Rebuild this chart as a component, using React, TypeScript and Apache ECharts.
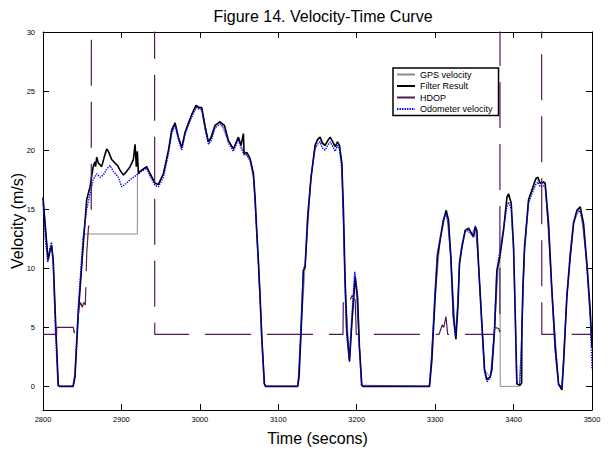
import React, { useEffect, useRef } from "react";
import * as echarts from "echarts";

const TITLE = "Figure 14. Velocity-Time Curve";
const X_NAME = "Time (secons)";
const Y_NAME = "Velocity (m/s)";
const SERIES_NAMES = ["GPS velocity", "Filter Result", "HDOP", "Odometer velocity"];
const Y_TICKS = [0, 5, 10, 15, 20, 25, 30];

// Filter Result (black)
const filterT = [2800, 2803, 2806.5, 2809, 2811, 2813, 2816.5, 2819.5, 2821, 2838.5, 2840.8, 2845, 2851.4, 2855.7, 2860, 2864, 2866, 2867, 2868.5, 2870.6, 2874.8, 2878, 2881.2, 2883.3, 2887.6, 2891.8, 2895, 2898.2, 2902.5, 2906.7, 2911, 2915.2, 2917.4, 2919, 2920.3, 2921.6, 2923.7, 2928, 2932.2, 2936.5, 2942.9, 2947.1, 2953.5, 2960, 2964.1, 2968.4, 2972.6, 2976.9, 2981.1, 2985.4, 2989.6, 2995.1, 2998.1, 3002.4, 3006.6, 3010.9, 3014.3, 3019.4, 3025.7, 3031.3, 3036.4, 3042.8, 3049.1, 3052.5, 3055.5, 3056.4, 3059.8, 3064, 3068.3, 3070.4, 3072.5, 3074.6, 3076.8, 3078.9, 3082.3, 3084, 3124.8, 3126.5, 3129.1, 3132, 3134.2, 3137.6, 3141.8, 3146.9, 3150, 3153.3, 3156, 3159.7, 3163, 3166.1, 3169.5, 3172.5, 3175.5, 3178, 3181, 3183.1, 3185.2, 3187.4, 3190.8, 3193.7, 3198, 3201, 3203.5, 3206.5, 3208, 3292.8, 3295.8, 3300, 3303, 3306.4, 3310.7, 3314.1, 3317, 3320, 3323.4, 3326.4, 3329, 3331.1, 3334.1, 3338.3, 3342.6, 3346.8, 3349, 3351.1, 3353.2, 3355.3, 3359.6, 3363, 3366, 3370.2, 3372.3, 3375.7, 3378.7, 3380.8, 3383, 3387.2, 3391.5, 3393.6, 3397, 3400, 3402.1, 3404.2, 3408.5, 3410.3, 3410.6, 3411.9, 3414, 3419.1, 3423.3, 3428.4, 3431, 3434, 3438.2, 3440.3, 3444.6, 3448.9, 3453.1, 3457.4, 3461.6, 3463.7, 3468, 3472.2, 3476.5, 3480.7, 3485, 3489.2, 3493.5, 3497.8, 3500];
const filterV = [16.0, 13.5, 10.7, 11.5, 11.9, 10.7, 4.7, 0.1, 0, 0, 0.8, 6.2, 12.1, 15.8, 16.9, 18.6, 19.0, 18.6, 19.4, 18.9, 18.6, 19.4, 20.1, 19.9, 19.2, 18.9, 18.7, 18.3, 17.9, 18.2, 18.6, 19.2, 20.5, 18.6, 19.9, 18.0, 18.2, 18.4, 18.6, 18.0, 17.2, 17.1, 18.0, 20.0, 21.7, 22.3, 21.1, 20.2, 21.5, 22.3, 23.0, 23.8, 23.6, 23.6, 22.0, 20.7, 21.0, 22.1, 22.4, 22.1, 20.8, 20.1, 21.1, 20.4, 21.4, 19.7, 19.8, 19.3, 18.0, 16.0, 13.2, 10.7, 7.6, 4.2, 0.2, 0, 0, 0.8, 4.7, 9.8, 10.1, 14.4, 17.7, 20.4, 20.9, 21.1, 20.6, 20.4, 20.8, 21.1, 20.7, 20.3, 20.7, 20.4, 18.9, 14.9, 9.0, 4.7, 2.1, 5.3, 9.3, 7.6, 3.3, 0.1, 0, 0, 2.2, 7.6, 11.0, 12.4, 14.1, 14.9, 14.1, 11.0, 5.9, 4.0, 6.7, 10.4, 11.8, 13.2, 13.4, 12.9, 12.7, 13.5, 13.2, 10.4, 5.3, 1.4, 0.6, 0.8, 1.4, 4.7, 9.8, 10.4, 11.2, 13.2, 16.0, 16.3, 15.5, 11.8, 6.2, 0.2, 0.1, 0.3, 4.7, 8.4, 11.8, 15.8, 16.6, 17.6, 17.7, 17.2, 17.3, 17.2, 13.8, 8.1, 3.3, 0.2, -0.3, 1.9, 7.6, 11.0, 13.8, 14.9, 15.2, 13.8, 10.4, 6.4, 3.3];

// Odometer velocity (blue dotted)
const odoT = [2800, 2803, 2806, 2809, 2811, 2813, 2816, 2819, 2820.5, 2838, 2840.5, 2845, 2851, 2855.7, 2860, 2864, 2868.5, 2872.7, 2877, 2881.2, 2885.5, 2889.7, 2896.1, 2900.3, 2904.6, 2911, 2919.5, 2923.7, 2928, 2932.2, 2936.5, 2942.9, 2947.1, 2953.5, 2960, 2964.1, 2968.4, 2972.6, 2976.9, 2981.1, 2985.4, 2989.6, 2995.1, 2998.1, 3002.4, 3006.6, 3010.9, 3014.3, 3019.4, 3025.7, 3031.3, 3036.4, 3042.8, 3049.1, 3052.5, 3056.4, 3059.8, 3064, 3068.3, 3070.4, 3072.5, 3074.6, 3076.8, 3078.9, 3082, 3083.5, 3124.5, 3126, 3128.8, 3132, 3134.2, 3137.6, 3141.8, 3146.9, 3150, 3153.3, 3156, 3159.7, 3163, 3166.1, 3169.5, 3172.5, 3175.5, 3178, 3181, 3183, 3185, 3187.2, 3190.5, 3193.5, 3197.5, 3200.8, 3203.2, 3206, 3207.5, 3292.5, 3295.5, 3299.7, 3302.8, 3306.4, 3310.7, 3314, 3317, 3320, 3323.2, 3326.2, 3328.8, 3331, 3334, 3338.3, 3342.6, 3346.8, 3349, 3351.1, 3353.2, 3355.3, 3359.6, 3363, 3366, 3370.2, 3372.3, 3375.7, 3378.7, 3380.8, 3383, 3387.2, 3391.5, 3393.6, 3397, 3400, 3402.1, 3404, 3408, 3410.6, 3411.9, 3414, 3419.1, 3423.3, 3428.4, 3431, 3434, 3438.2, 3440.3, 3444.6, 3448.9, 3453.1, 3457.4, 3461.6, 3463.7, 3468, 3472.2, 3476.5, 3480.7, 3485, 3489.2, 3493.5, 3497.8, 3500];
const odoV = [15.5, 12.5, 10.5, 11.8, 12.2, 10.3, 4.5, 0.1, 0, 0, 1.0, 6.8, 12.5, 15.0, 16.3, 17.5, 18.0, 17.7, 17.9, 18.4, 18.7, 18.2, 17.7, 16.9, 17.1, 17.5, 17.9, 18.1, 18.3, 18.5, 17.8, 17.0, 16.9, 17.7, 19.7, 21.4, 22.1, 20.9, 20.0, 21.3, 22.1, 22.8, 23.6, 23.5, 23.4, 21.8, 20.5, 20.8, 21.9, 22.2, 21.9, 20.6, 19.9, 20.9, 20.2, 19.6, 19.6, 19.1, 17.7, 15.7, 12.9, 10.4, 7.3, 3.9, 0.2, 0, 0, 0.9, 5.0, 9.9, 10.3, 14.6, 17.8, 20.1, 20.5, 20.7, 20.2, 20.0, 20.4, 20.7, 20.3, 19.9, 20.4, 20.1, 18.4, 14.0, 8.5, 4.3, 2.3, 5.7, 9.7, 7.9, 3.5, 0.1, 0, 0, 2.5, 8.0, 11.3, 12.6, 14.2, 14.6, 13.8, 10.7, 5.7, 4.2, 7.0, 10.6, 11.9, 13.1, 13.3, 12.8, 12.6, 13.6, 13.0, 10.1, 5.0, 1.2, 0.4, 0.7, 1.6, 5.0, 9.9, 10.8, 11.6, 13.4, 15.2, 15.6, 15.0, 11.5, 6.0, 0.4, 0.3, 4.5, 8.1, 11.5, 15.5, 16.3, 17.1, 17.3, 16.9, 17.0, 16.9, 13.5, 7.8, 3.0, 0.1, 0.0, 2.2, 7.9, 11.3, 14.0, 14.8, 14.8, 13.5, 10.0, 5.8, 1.4];

// GPS velocity (grey, mostly hidden below the filter result)
const gpsT = [2800, 2803, 2806.5, 2809, 2811, 2813, 2816.5, 2819.5, 2821, 2838.5, 2840.8, 2845, 2851.4, 2852.5, 2920.3, 2920.4, 2921.6, 2923.7, 2932.2, 2936.5, 2942.9, 2947.1, 2953.5, 2960, 2964.1, 2968.4, 2972.6, 2976.9, 2981.1, 2989.6, 2995.1, 3002.4, 3010.9, 3019.4, 3025.7, 3036.4, 3042.8, 3049.1, 3056.4, 3064, 3068.3, 3072.5, 3076.8, 3082.3, 3084, 3124.8, 3129.1, 3134.2, 3141.8, 3146.9, 3153.3, 3159.7, 3166.1, 3172.5, 3178, 3181, 3185.2, 3190.8, 3198, 3203.5, 3206.5, 3292.8, 3300, 3306.4, 3314.1, 3320, 3326.4, 3331.1, 3338.3, 3346.8, 3351.1, 3355.3, 3363, 3370.2, 3375.7, 3380.8, 3382.7, 3383, 3407.5, 3410.6, 3414, 3419.1, 3428.4, 3434, 3440.3, 3448.9, 3457.4, 3461.6, 3468, 3476.5, 3485, 3493.5, 3500];
const gpsV = [16.0, 13.5, 10.7, 11.5, 11.9, 10.7, 4.7, 0.1, 0, 0, 0.8, 6.2, 12.1, 12.9, 12.9, 18.0, 18.0, 18.2, 18.6, 18.0, 17.2, 17.1, 18.0, 20.0, 21.7, 22.3, 21.1, 20.2, 21.5, 23.0, 23.8, 23.6, 20.7, 22.1, 22.4, 20.8, 20.1, 21.1, 19.7, 19.3, 18.0, 13.2, 7.6, 0.2, 0, 0, 4.7, 10.1, 17.7, 20.4, 21.1, 20.4, 21.1, 20.3, 20.4, 18.9, 9.0, 2.1, 9.3, 3.3, 0.1, 0, 7.6, 12.4, 14.9, 11.0, 4.0, 10.4, 13.2, 12.9, 13.5, 10.4, 1.4, 0.8, 4.7, 10.4, 11.0, 0, 0, 4.7, 11.8, 15.8, 17.6, 17.2, 17.2, 8.1, 0.2, -0.3, 7.6, 13.8, 15.2, 10.4, 3.3];

// HDOP (purple dashed, values above 30 leave the plot)
const hdopT = [2800, 2817.4, 2817.5, 2838.7, 2839.8, 2841, 2845, 2846, 2848, 2850, 2852, 2854, 2855.7, 2858, 2861.5, 2862, 2942, 2942.5, 3182.5, 3183, 3188, 3191, 3194, 3198, 3199.5, 3305, 3309, 3311, 3313.8, 3316, 3375, 3376, 3381, 3382.5, 3383, 3435.5, 3436, 3500];
const hdopV = [4.4, 4.4, 5.0, 5.0, 4.5, 5.9, 5.9, 6.7, 7.1, 6.7, 7.1, 6.9, 11.2, 13.5, 14, 60, 60, 4.4, 4.4, 7.6, 7.5, 7.2, 7.7, 7.3, 4.4, 4.4, 5.2, 5.0, 5.9, 4.4, 4.4, 5.0, 4.9, 4.6, 60, 60, 4.4, 4.4];

const pairs = (t: number[], v: number[]) => t.map((x, i) => [x, v[i]]);

const FONT = "Liberation Sans, Arial, sans-serif";

export default function App() {
  const ref = useRef<HTMLDivElement>(null);
  useEffect(() => {
    if (!ref.current) return;
    const chart = echarts.init(ref.current, undefined, { renderer: "svg" });
    const axisLine = { show: true, onZero: false, lineStyle: { color: "#000", width: 1 } };
    const tick = { show: true, inside: true, length: 6, lineStyle: { color: "#000", width: 1 } };
    const plain = (v: number) => String(v);
    chart.setOption({
      animation: false,
      backgroundColor: "#fff",
      textStyle: { fontFamily: FONT },
      title: {
        text: TITLE,
        left: 318,
        top: 3,
        textAlign: "center",
        textStyle: { fontFamily: FONT, fontSize: 16, fontWeight: "normal", color: "#000" },
      },
      grid: { left: 43, right: 16, top: 32, bottom: 41, containLabel: false, outerBoundsMode: "none" },
      legend: {
        data: SERIES_NAMES,
        orient: "vertical",
        left: 393,
        top: 68,
        itemWidth: 18,
        itemHeight: 9,
        itemGap: 2.5,
        padding: [2, 6, 2, 3],
        borderColor: "#000",
        borderWidth: 1.5,
        backgroundColor: "#fff",
        itemStyle: { opacity: 0 },
        textStyle: { fontFamily: FONT, fontSize: 9, color: "#000" },
      },
      xAxis: [
        {
          type: "value",
          min: 2800,
          max: 3500,
          interval: 100,
          position: "bottom",
          name: X_NAME,
          nameLocation: "middle",
          nameGap: 20,
          nameMoveOverlap: false,
          nameTextStyle: { fontFamily: FONT, fontSize: 16, color: "#000" },
          axisLine,
          splitLine: { show: false },
          axisTick: tick,
          axisLabel: { fontFamily: FONT, fontSize: 7.5, color: "#000", margin: 5, formatter: plain },
        },
        {
          type: "value",
          min: 2800,
          max: 3500,
          interval: 100,
          position: "top",
          axisLine,
          splitLine: { show: false },
          axisTick: tick,
          axisLabel: { show: false },
        },
      ],
      yAxis: [
        {
          type: "value",
          min: -2,
          max: 30,
          position: "left",
          name: Y_NAME,
          nameLocation: "middle",
          nameGap: 18,
          nameMoveOverlap: false,
          nameRotate: 90,
          nameTextStyle: { fontFamily: FONT, fontSize: 16, color: "#000" },
          axisLine,
          splitLine: { show: false },
          axisTick: { ...tick, customValues: Y_TICKS },
          axisLabel: { fontFamily: FONT, fontSize: 7.5, color: "#000", margin: 8, customValues: Y_TICKS, formatter: plain },
        },
        {
          type: "value",
          min: -2,
          max: 30,
          position: "right",
          axisLine,
          splitLine: { show: false },
          axisTick: { ...tick, customValues: Y_TICKS },
          axisLabel: { show: false },
        },
      ],
      series: [
        {
          name: SERIES_NAMES[0],
          type: "line",
          data: pairs(gpsT, gpsV),
          symbol: "none",
          showSymbol: false,
          lineStyle: { color: "#8c8c8c", width: 1 },
          itemStyle: { color: "#8c8c8c" },
        },
        {
          name: SERIES_NAMES[1],
          type: "line",
          data: pairs(filterT, filterV),
          symbol: "none",
          showSymbol: false,
          lineStyle: { color: "#000", width: 1.6 },
          itemStyle: { color: "#000" },
        },
        {
          name: SERIES_NAMES[2],
          type: "line",
          data: pairs(hdopT, hdopV),
          symbol: "none",
          showSymbol: false,
          lineStyle: { color: "#551a55", width: 1.2, type: [46, 16] },
          itemStyle: { color: "#551a55" },
        },
        {
          name: SERIES_NAMES[3],
          type: "line",
          data: pairs(odoT, odoV),
          symbol: "none",
          showSymbol: false,
          lineStyle: { color: "#0000ff", width: 1.4, type: [1.4, 1.1] },
          itemStyle: { color: "#0000ff" },
        },
      ],
    });
    return () => chart.dispose();
  }, []);
  return (
    <div
      ref={ref}
      style={{ position: "fixed", left: 0, top: 0, width: 608, height: 451, background: "#fff" }}
    />
  );
}
